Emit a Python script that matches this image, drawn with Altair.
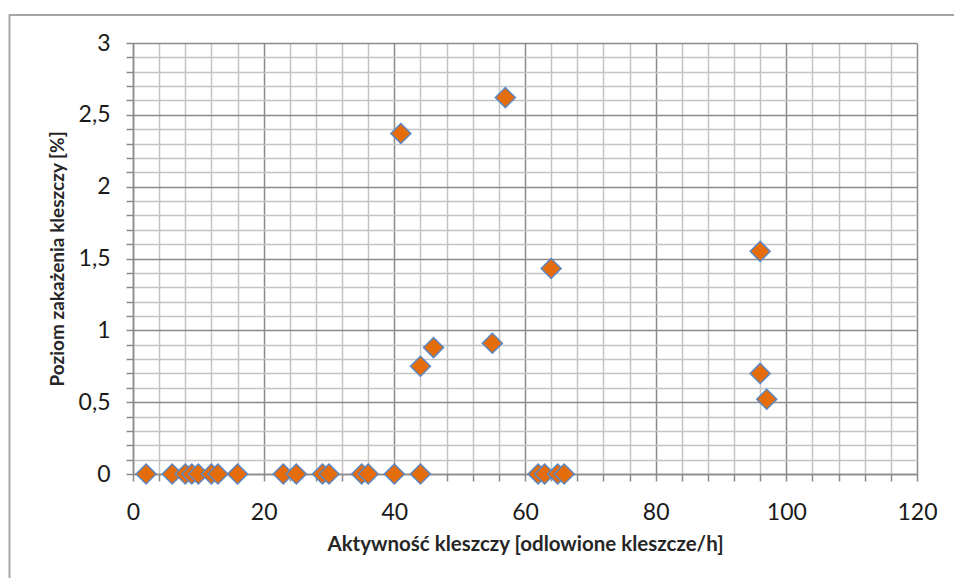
import altair as alt
import pandas as pd

# --- data ---
activity = [2, 6, 8, 9, 10, 12, 13, 16, 23, 25, 29, 30, 35, 36, 40, 44,
            62, 63, 65, 66,
            41, 57, 64, 96, 44, 46, 55, 96, 97]
infection = [0, 0, 0, 0, 0, 0, 0, 0, 0, 0, 0, 0, 0, 0, 0, 0,
             0, 0, 0, 0,
             2.37, 2.62, 1.43, 1.55, 0.75, 0.88, 0.91, 0.70, 0.52]

x_ticks = [0, 4, 8, 12, 16, 20, 24, 28, 32, 36, 40, 44, 48, 52, 56, 60,
           64, 68, 72, 76, 80, 84, 88, 92, 96, 100, 104, 108, 112, 116, 120]
y_ticks = [0, 0.1, 0.2, 0.3, 0.4, 0.5, 0.6, 0.7, 0.8, 0.9, 1.0,
           1.1, 1.2, 1.3, 1.4, 1.5, 1.6, 1.7, 1.8, 1.9, 2.0,
           2.1, 2.2, 2.3, 2.4, 2.5, 2.6, 2.7, 2.8, 2.9, 3.0]

x_title = "Aktywność kleszczy [odlowione kleszcze/h]"
y_title = "Poziom zakażenia kleszczy [%]"

df = pd.DataFrame({"x": activity, "y": infection})
frame_df = pd.DataFrame({"k": [0]})

MAJOR = "#8a8a8a"
MINOR = "#c4c4c4"
FONT = "Lato"

x_major_test = "datum.value % 20 == 0"
y_major_test = "abs(datum.value*2 - round(datum.value*2)) < 0.001"

x_axis = alt.Axis(
    values=x_ticks,
    grid=True,
    gridColor={"condition": {"test": x_major_test, "value": MAJOR}, "value": MINOR},
    gridWidth=1.5,
    domainColor=MAJOR, domainWidth=1.5,
    ticks=True, tickColor=MAJOR, tickSize=7, tickWidth=1.5,
    labelExpr=f"{x_major_test} ? datum.label : ''",
    labelFont=FONT, labelFontSize=23, labelColor="#1a1a1a",
    labelPadding=20, labelFlush=False, labelOverlap=False,
    title=x_title, titleFont=FONT, titleFontSize=20.5, titleFontWeight="bold",
    titleColor="#262626", titleX=392, titleY=70, titleBaseline="middle",
)
y_axis = alt.Axis(
    values=y_ticks,
    grid=True,
    gridColor={"condition": {"test": y_major_test, "value": MAJOR}, "value": MINOR},
    gridWidth=1.5,
    domainColor=MAJOR, domainWidth=1.5,
    ticks=True, tickColor=MAJOR, tickSize=7, tickWidth=1.5,
    labelExpr=f"{y_major_test} ? replace(format(datum.value, '.1~f'), '.', ',') : ''",
    labelFont=FONT, labelFontSize=23, labelColor="#1a1a1a",
    labelPadding=16, labelFlush=False, labelOverlap=False,
    title=y_title, titleFont=FONT, titleFontSize=19, titleFontWeight="bold",
    titleColor="#262626", titleX=-76, titleY=215.5, titleBaseline="middle",
)

points = alt.Chart(df).mark_point(
    shape="diamond", filled=True, fill="#E46C0A", stroke="#5B87C5",
    strokeWidth=1.5, size=400, opacity=1,
).encode(
    x=alt.X("x:Q", scale=alt.Scale(domain=[0, 120], nice=False, zero=False), axis=x_axis),
    y=alt.Y("y:Q", scale=alt.Scale(domain=[0, 3], nice=False, zero=False), axis=y_axis),
)

# outer chart-area frame: only its top and left edges fall inside the picture
frame = alt.Chart(frame_df).mark_rect(
    fill="transparent", stroke="#a6a6a6", strokeWidth=2
).encode(
    x=alt.value(-123.5), x2=alt.value(880), y=alt.value(-28), y2=alt.value(600)
)

chart = alt.layer(points, frame).properties(
    width=784, height=431,
    autosize=alt.AutoSizeParams(type="none"),
    padding={"left": 133, "top": 43, "right": 37, "bottom": 104},
    background="white",
).configure_view(stroke=None)

chart.save("out.html", embed_options={"renderer": "svg", "actions": False})
